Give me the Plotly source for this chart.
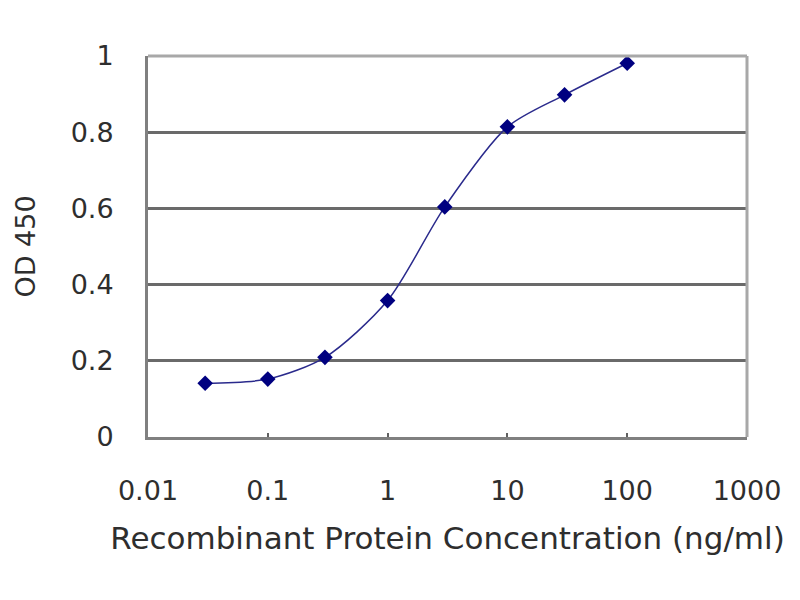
import plotly.graph_objects as go

concentration = [0.03, 0.1, 0.3, 1, 3, 10, 30, 100]
od450 = [0.141, 0.152, 0.209, 0.358, 0.604, 0.814, 0.898, 0.981]
x_tick_vals = [0.01, 0.1, 1, 10, 100, 1000]
x_tick_text = ["0.01", "0.1", "1", "10", "100", "1000"]
y_tick_vals = [0, 0.2, 0.4, 0.6, 0.8, 1]
y_tick_text = ["0", "0.2", "0.4", "0.6", "0.8", "1"]

fig = go.Figure()
fig.add_trace(go.Scatter(
    x=concentration, y=od450, mode="lines+markers",
    line=dict(color="#2a2a8c", width=1.5, shape="spline", smoothing=0.8),
    marker=dict(symbol="diamond", size=12, color="#000080"),
    showlegend=False,
))

font = dict(family="DejaVu Sans, sans-serif", size=27, color="#2e2e2e")
title_font = dict(family="DejaVu Sans, sans-serif", size=31, color="#2e2e2e")

fig.update_layout(
    width=800, height=600,
    margin=dict(l=140, r=61, t=48, b=171),
    paper_bgcolor="white", plot_bgcolor="white",
    font=font,
    xaxis=dict(
        type="log", range=[-2, 3],
        tickvals=x_tick_vals, ticktext=x_tick_text,
        showgrid=False, zeroline=False,
        showline=True, linecolor="#808080", linewidth=3, mirror=False,
        ticks="inside", ticklen=4, tickcolor="#606060", tickwidth=2,
        ticklabelstandoff=28,
        title=dict(text="Recombinant Protein Concentration (ng/ml)", standoff=22, font=title_font),
        tickfont=font,
    ),
    yaxis=dict(
        range=[0, 1],
        tickvals=y_tick_vals, ticktext=y_tick_text,
        showgrid=True, gridcolor="#6a6a6a", gridwidth=2.5,
        zeroline=False,
        showline=True, linecolor="#808080", linewidth=3,
        ticks="", ticklen=0,
        ticklabelstandoff=26,
        title=dict(text="OD 450", standoff=28, font=font),
        tickfont=font,
    ),
    shapes=[
        dict(type="line", xref="paper", yref="paper", x0=0, x1=1, y0=1, y1=1,
             line=dict(color="#a8a8a8", width=3)),
        dict(type="line", xref="paper", yref="paper", x0=1, x1=1, y0=0, y1=1,
             line=dict(color="#a8a8a8", width=3)),
    ],
)

fig.write_html("out.html")
